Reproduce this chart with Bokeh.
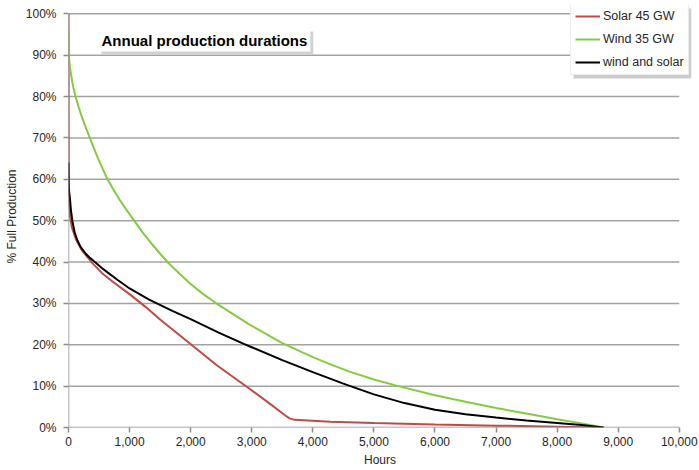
from bokeh.plotting import figure
from bokeh.models import (Range1d, NumeralTickFormatter, PrintfTickFormatter,
                          FixedTicker, Legend, LegendItem, Label, BoxAnnotation)
from bokeh.embed import file_html
from bokeh.resources import INLINE

# Load-duration curves: hours of the year vs. % of full production
solar_hours = [0, 2, 4, 10, 25, 55, 120, 220, 387, 550, 720, 993, 1266, 1484,
               1997, 2433, 2924, 3300, 3470, 3550, 3620, 3700, 4288, 5000,
               6000, 7000, 8000, 8760]
solar_pct = [100, 78, 62, 54, 51, 48.4, 45.5, 42.8, 39.8, 37.3, 35.3, 32.3,
             29.1, 26.3, 20.2, 15.0, 9.8, 5.7, 3.8, 2.9, 2.2, 1.85, 1.4, 1.1,
             0.75, 0.45, 0.2, 0]

wind_hours = [0, 1, 5, 20, 45, 75, 115, 165, 220, 283, 349, 415, 485, 560,
              638, 735, 840, 950, 1075, 1200, 1350, 1500, 1640, 1800, 2000,
              2200, 2400, 2950, 3500, 4000, 4300, 4600, 5000, 5400, 6000,
              6500, 7000, 7561, 8000, 8400, 8760]
wind_pct = [96, 95, 90, 87.5, 85, 82.5, 80, 77.5, 75, 72.5, 70, 67.5, 65,
            62.5, 60, 57.5, 55, 52.6, 50, 47.4, 44.6, 42.0, 39.7, 37.4, 34.7,
            32.3, 30.2, 25, 20.4, 17.0, 15.2, 13.5, 11.6, 10.0, 7.8, 6.2, 4.7,
            3.2, 2.0, 1.0, 0]

combined_hours = [0, 2, 5, 12, 22, 40, 65, 100, 147, 200, 283, 350, 447, 550,
                  666, 800, 1000, 1320, 1700, 2000, 2450, 2870, 3000, 3500,
                  4000, 4500, 5000, 5500, 6000, 6500, 7000, 7500, 8000, 8400,
                  8760]
combined_pct = [64, 60, 58, 56.8, 55.6, 52.5, 49.8, 47.2, 45.2, 43.6, 42,
                41.0, 39.8, 38.5, 37.2, 35.7, 33.6, 30.9, 28.2, 26.2, 23.0,
                20.2, 19.4, 16.3, 13.4, 10.6, 8.0, 5.9, 4.3, 3.2, 2.4, 1.7,
                1.1, 0.6, 0]

series_names = ["Solar 45 GW", "Wind 35 GW", "wind and solar"]
series_colors = ["#be4b48", "#86c943", "#000000"]

x_ticks = list(range(0, 10001, 1000))
y_ticks = list(range(0, 101, 10))

FONT = "Liberation Sans"
TEXT = "#262626"
AXIS = "#8c8c8c"
GRID = "#a3a3a3"

# page geometry (pixels)
W, H = 699, 470
LEFT, RIGHT, TOP, BOTTOM = 68, 8, 5, 43
X_MAX, Y_MAX = 10200, 102          # a little headroom for the legend
frame_w = W - LEFT - RIGHT
frame_h = H - TOP - BOTTOM


def px_to_x(px):
    return (px - LEFT) * X_MAX / frame_w


def px_to_y(py):
    return (H - BOTTOM - py) * Y_MAX / frame_h


p = figure(width=W, height=H, output_backend="svg", toolbar_location=None,
           x_range=Range1d(0, X_MAX), y_range=Range1d(0, Y_MAX),
           min_border_left=LEFT, min_border_right=RIGHT, min_border_top=TOP,
           min_border_bottom=BOTTOM)
p.outline_line_color = None
p.background_fill_color = "white"
p.border_fill_color = "white"

# axes (lines drawn separately so they stop at the last tick)
p.xaxis.ticker = FixedTicker(ticks=x_ticks)
p.yaxis.ticker = FixedTicker(ticks=y_ticks)
p.xaxis.formatter = NumeralTickFormatter(format="0,0")
p.yaxis.formatter = PrintfTickFormatter(format="%d%%")
p.xaxis.axis_label = "Hours"
p.yaxis.axis_label = "% Full Production"
for ax in (p.xaxis, p.yaxis):
    ax.axis_line_color = None
    ax.major_tick_line_color = AXIS
    ax.major_tick_line_width = 1.5
    ax.major_tick_in = 0
    ax.major_tick_out = 5
    ax.minor_tick_line_color = None
    ax.major_label_text_font = FONT
    ax.major_label_text_font_size = "12px"
    ax.major_label_text_color = TEXT
    ax.axis_label_text_font = FONT
    ax.axis_label_text_font_size = "12px"
    ax.axis_label_text_font_style = "normal"
    ax.axis_label_text_color = TEXT
    ax.axis_label_standoff = 4
p.xaxis.major_label_standoff = 4
p.yaxis.major_label_standoff = 7

p.xgrid.grid_line_color = None
p.ygrid.grid_line_color = None

# horizontal gridlines spanning 0..10,000 hours
grid_levels = y_ticks[1:]
p.segment(x0=[x_ticks[0]] * len(grid_levels), y0=grid_levels,
          x1=[x_ticks[-1]] * len(grid_levels), y1=grid_levels,
          line_color=GRID, line_width=1.5)

# curves
r_solar = p.line(solar_hours, solar_pct, line_color=series_colors[0],
                 line_width=2)
r_wind = p.line(wind_hours, wind_pct, line_color=series_colors[1],
                line_width=2)
r_comb = p.line(combined_hours, combined_pct, line_color=series_colors[2],
                line_width=2)

# axis lines
p.segment(x0=[x_ticks[0], x_ticks[0]], y0=[y_ticks[0], y_ticks[0]],
          x1=[x_ticks[-1], x_ticks[0]], y1=[y_ticks[0], y_ticks[-1]],
          line_color=AXIS, line_width=1.5)

# title box with drop shadow
title_text = "Annual production durations"
tx, ty = px_to_x(98), px_to_y(39.5)
shadow = Label(x=tx, y=ty, text=title_text, text_font=FONT,
               text_font_size="15px", text_font_style="bold",
               text_baseline="middle", text_align="left",
               text_color="#d2d2d2", x_offset=3, y_offset=-3, padding=3,
               background_fill_color="#d2d2d2", background_fill_alpha=1)
title = Label(x=tx, y=ty, text=title_text, text_font=FONT,
              text_font_size="15px", text_font_style="bold",
              text_color="#000000", text_baseline="middle",
              text_align="left", padding=3,
              background_fill_color="white", background_fill_alpha=1)
p.add_layout(shadow)
p.add_layout(title)

# legend with a soft shadow box behind it
leg_l, leg_r, leg_t, leg_b = 570, 688, 5, 75
p.add_layout(BoxAnnotation(left=px_to_x(leg_l + 3), right=px_to_x(leg_r + 3),
                           top=px_to_y(leg_t + 3), bottom=px_to_y(leg_b + 3),
                           fill_color="#cccccc", fill_alpha=1,
                           line_color=None))
legend = Legend(items=[LegendItem(label=n, renderers=[r])
                       for n, r in zip(series_names, [r_solar, r_wind, r_comb])],
                location=(leg_l - LEFT, H - BOTTOM - leg_b),
                margin=0, padding=4, spacing=7,
                glyph_width=25, glyph_height=16, label_height=16,
                label_standoff=3, label_text_font=FONT,
                label_text_font_size="12.5px", label_text_color=TEXT,
                border_line_color="#dcdcdc", border_line_width=1,
                background_fill_color="white", background_fill_alpha=1)
p.add_layout(legend)

open("out.html", "w").write(file_html(p, INLINE))
